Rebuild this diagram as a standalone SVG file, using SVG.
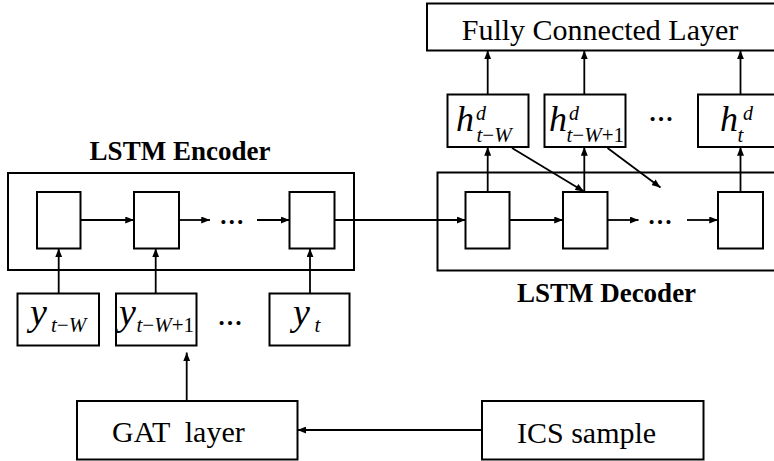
<svg xmlns="http://www.w3.org/2000/svg" width="774" height="461" viewBox="0 0 774 461">
<style>
  .box{fill:#fff;stroke:#000;stroke-width:2}
  .frame{fill:none;stroke:#000;stroke-width:2}
  .arr{fill:none;stroke:#000;stroke-width:1.8;marker-end:url(#ah)}
  .t{font-family:"Liberation Serif","Times New Roman",serif;font-size:30px;fill:#000}
  .b{font-family:"Liberation Serif","Times New Roman",serif;font-size:27px;font-weight:bold;fill:#000}
  .mi{font-family:"Liberation Serif","Times New Roman",serif;font-style:italic;fill:#000}
  .rm{font-style:normal}
  .dots{font-family:"Liberation Serif","Times New Roman",serif;font-size:25px;font-weight:bold;fill:#000;text-anchor:middle}
</style>
<defs>
  <marker id="ah" viewBox="0 0 10 8" refX="10" refY="4" markerWidth="9" markerHeight="7" orient="auto" markerUnits="userSpaceOnUse">
    <path d="M0,0 L10,4 L0,8 z" fill="#000"/>
  </marker>
</defs>
<rect width="774" height="461" fill="#fff"/>

<!-- Encoder -->
<g id="encoder">
  <rect class="frame" x="8" y="173" width="346" height="97"/>
  <text class="b" x="180" y="160" text-anchor="middle">LSTM Encoder</text>
</g>
<g id="enc-cell1"><rect class="box" x="37" y="192" width="43.5" height="56.5"/></g>
<g id="enc-cell2"><rect class="box" x="134" y="192" width="45" height="56.5"/></g>
<g id="enc-cell3"><rect class="box" x="289.5" y="192" width="45" height="56.5"/></g>
<text class="dots" x="231.7" y="224">…</text>

<!-- Decoder -->
<g id="decoder">
  <rect class="frame" x="437.5" y="172.5" width="345" height="98"/>
  <text class="b" x="606.5" y="301.5" text-anchor="middle">LSTM Decoder</text>
</g>
<g id="dec-cell1"><rect class="box" x="465.5" y="192" width="44" height="56.5"/></g>
<g id="dec-cell2"><rect class="box" x="563" y="192" width="44.5" height="56.5"/></g>
<g id="dec-cell3"><rect class="box" x="718" y="192" width="45" height="56.5"/></g>
<text class="dots" x="660" y="223.5">…</text>

<!-- Fully connected -->
<g id="fc">
  <rect class="box" x="427" y="3.5" width="355" height="47"/>
  <text class="t" x="600" y="40" text-anchor="middle">Fully Connected Layer</text>
</g>

<!-- hidden outputs -->
<g id="h1">
  <rect class="box" x="447.5" y="94.5" width="81" height="52.5"/>
  <text class="mi" x="456" y="131" font-size="36">h</text>
  <text class="mi" x="476" y="120" font-size="20">d</text>
  <text class="mi" x="476.5" y="141.5" font-size="21">t<tspan class="rm">−</tspan>W</text>
</g>
<g id="h2">
  <rect class="box" x="544.5" y="94.5" width="81" height="52.5"/>
  <text class="mi" x="549" y="131" font-size="36">h</text>
  <text class="mi" x="569" y="120" font-size="20">d</text>
  <text class="mi" x="566.5" y="141.5" font-size="21">t<tspan class="rm">−</tspan>W<tspan class="rm">+1</tspan></text>
</g>
<g id="h3">
  <rect class="box" x="698" y="94.5" width="84" height="52.5"/>
  <text class="mi" x="720" y="131" font-size="36">h</text>
  <text class="mi" x="743" y="120" font-size="20">d</text>
  <text class="mi" x="737.5" y="141.5" font-size="21">t</text>
</g>
<text class="dots" x="661" y="121">…</text>

<!-- inputs -->
<g id="y1">
  <rect class="box" x="17.5" y="293.5" width="81.5" height="52"/>
  <text class="mi" x="30" y="325" font-size="38">y</text>
  <text class="mi" x="51" y="332" font-size="21">t<tspan class="rm">−</tspan>W</text>
</g>
<g id="y2">
  <rect class="box" x="116" y="293.5" width="80.5" height="52"/>
  <text class="mi" x="119" y="325" font-size="38">y</text>
  <text class="mi" x="136.5" y="332" font-size="21">t<tspan class="rm">−</tspan>W<tspan class="rm">+1</tspan></text>
</g>
<g id="y3">
  <rect class="box" x="269.5" y="293.5" width="80" height="52"/>
  <text class="mi" x="293" y="325" font-size="38">y</text>
  <text class="mi" x="314.5" y="332" font-size="21">t</text>
</g>
<text class="dots" x="230" y="324.5">…</text>

<!-- bottom -->
<g id="gat">
  <rect class="box" x="77" y="401" width="220.5" height="58.5"/>
  <text class="t" x="112" y="441.5" xml:space="preserve">GAT  layer</text>
</g>
<g id="ics">
  <rect class="box" x="482" y="401" width="221.5" height="58.5"/>
  <text class="t" x="517" y="442.5">ICS sample</text>
</g>

<!-- connectors -->
<g id="connectors">
  <line class="arr" x1="80.5" y1="220" x2="134" y2="220"/>
  <line class="arr" x1="179" y1="220" x2="210" y2="220"/>
  <line class="arr" x1="257" y1="220" x2="289.5" y2="220"/>
  <line class="arr" x1="334.5" y1="220" x2="465.5" y2="220"/>
  <line class="arr" x1="509.5" y1="220" x2="563" y2="220"/>
  <line class="arr" x1="607.5" y1="220" x2="638.5" y2="220"/>
  <line class="arr" x1="687" y1="220" x2="718" y2="220"/>

  <line class="arr" x1="58.7" y1="293.5" x2="58.7" y2="248.5"/>
  <line class="arr" x1="155.7" y1="293.5" x2="155.7" y2="248.5"/>
  <line class="arr" x1="310" y1="293.5" x2="310" y2="248.5"/>

  <line class="arr" x1="186.7" y1="401" x2="186.7" y2="352.5"/>
  <line class="arr" x1="482" y1="430" x2="297.5" y2="430"/>

  <line class="arr" x1="487.7" y1="192" x2="487.7" y2="147"/>
  <line class="arr" x1="584.3" y1="192" x2="584.3" y2="147"/>
  <line class="arr" x1="740.5" y1="192" x2="740.5" y2="147"/>

  <line class="arr" x1="487.7" y1="94.5" x2="487.7" y2="50.5"/>
  <line class="arr" x1="584.3" y1="94.5" x2="584.3" y2="50.5"/>
  <line class="arr" x1="740.5" y1="94.5" x2="740.5" y2="50.5"/>

  <line class="arr" x1="512" y1="148" x2="584" y2="191.5"/>
  <line class="arr" x1="607.5" y1="148" x2="660.5" y2="187.5"/>
</g>
</svg>
